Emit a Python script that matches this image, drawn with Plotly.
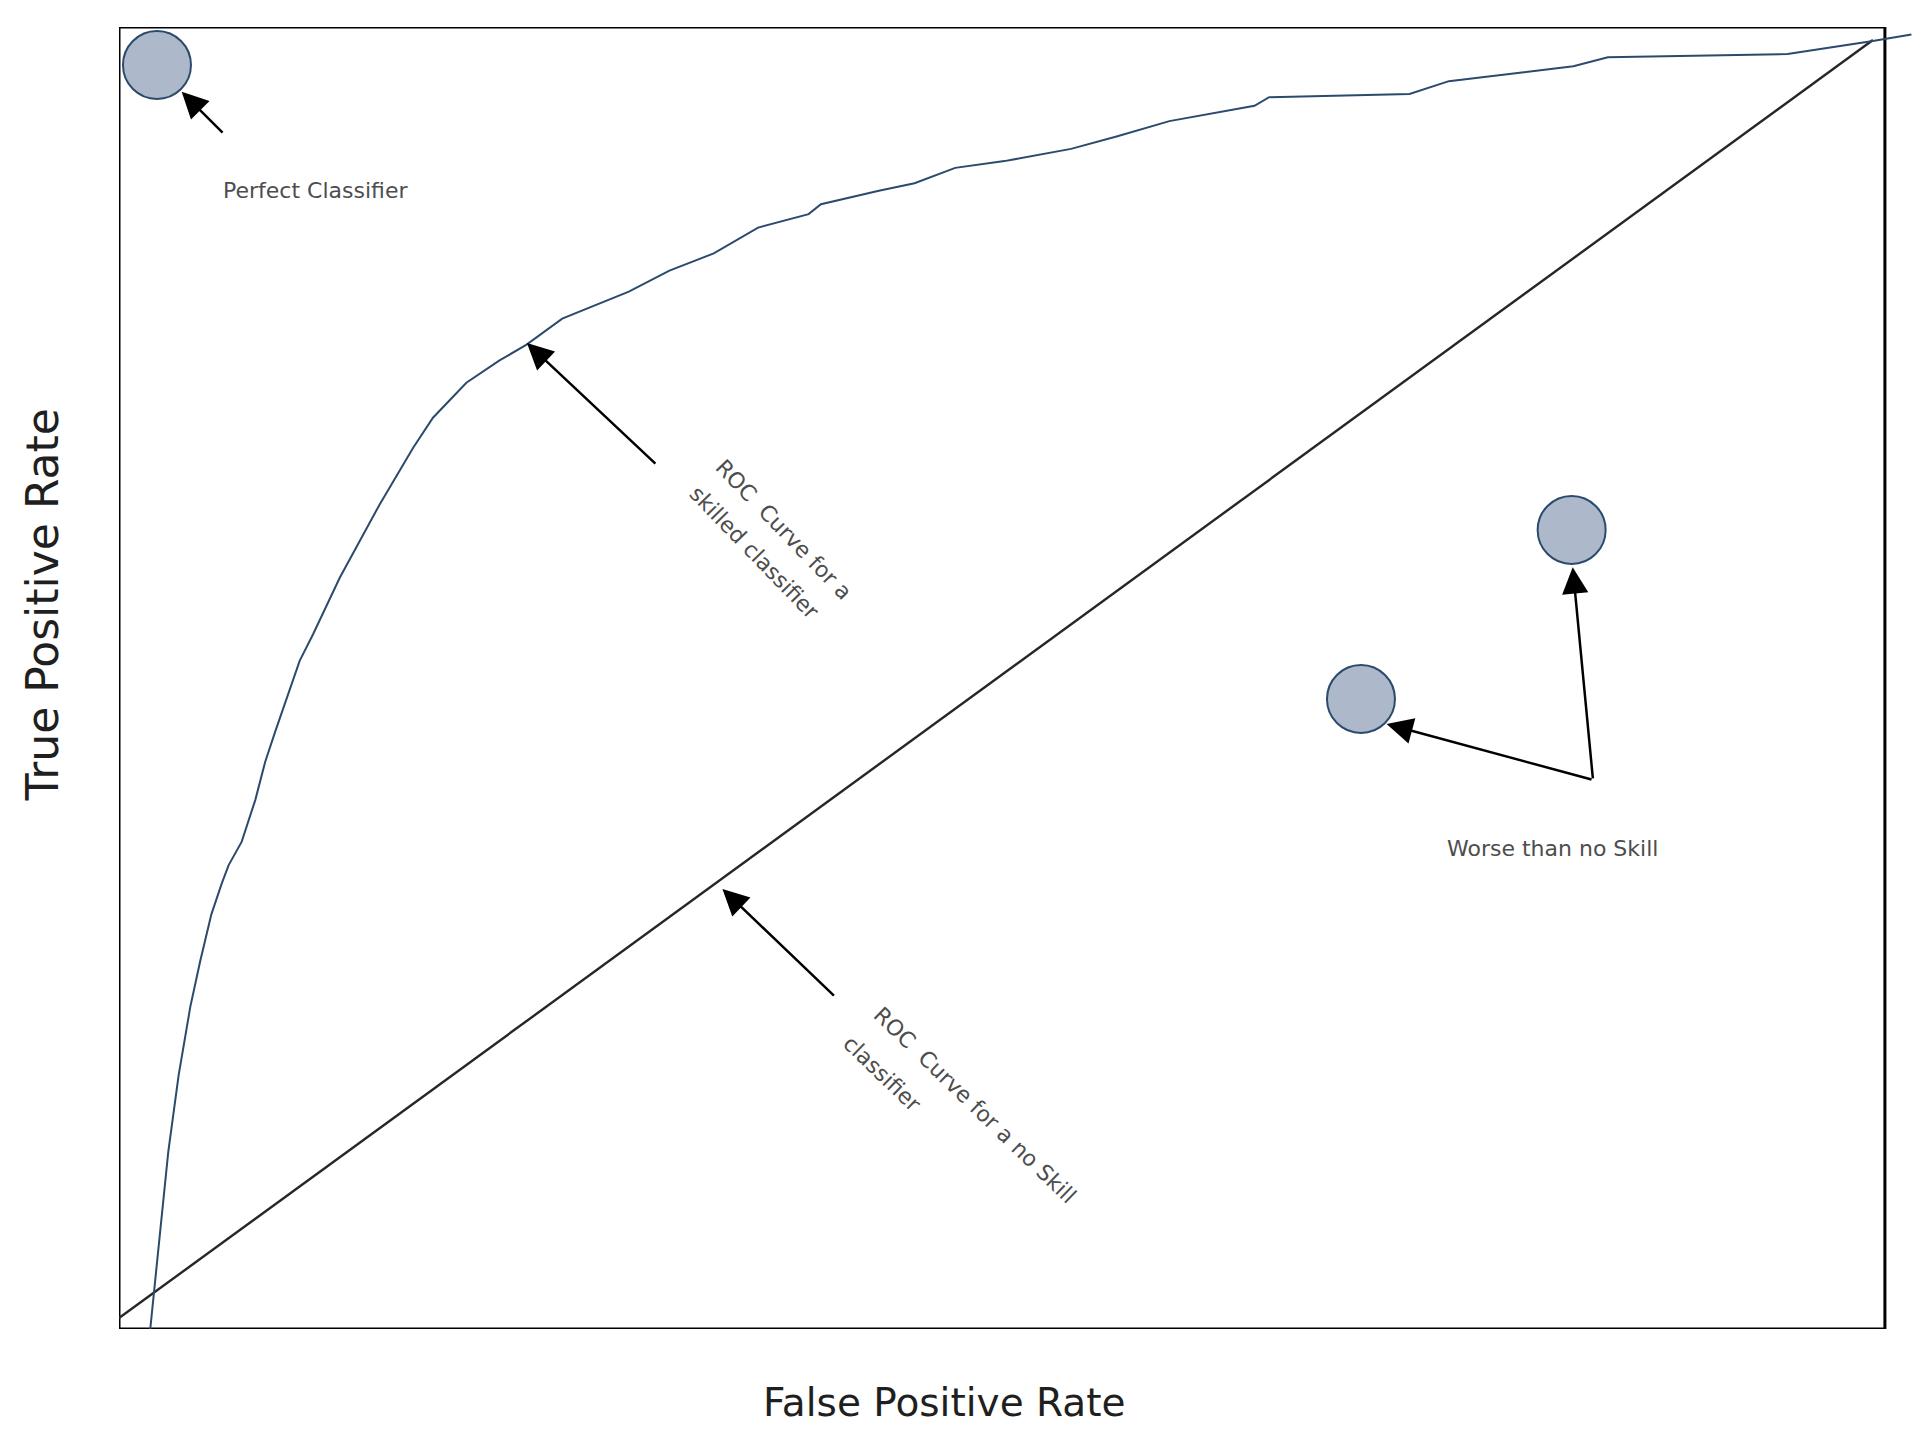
import plotly.graph_objects as go

# ROC curve of a skilled classifier
# (x and y as fractions of the framed box)
roc_fpr = [0.0177, 0.0195, 0.0234, 0.0279, 0.0338, 0.0404, 0.0460, 0.0523,
           0.0582, 0.0621, 0.0695, 0.0772, 0.0828, 0.0886, 0.1023, 0.1099,
           0.1250, 0.1476, 0.1665, 0.1778, 0.1967, 0.2155, 0.2308, 0.2510,
           0.2887, 0.3117, 0.3368, 0.3619, 0.3905, 0.3975, 0.4303, 0.4505,
           0.4735, 0.5014, 0.5391, 0.5649, 0.5948, 0.6123, 0.6430, 0.6513,
           0.7308, 0.7531, 0.8236, 0.8431, 0.9449, 0.9923, 1.0150]
roc_tpr = [0.0000, 0.0246, 0.0775, 0.1361, 0.1952, 0.2476, 0.2826, 0.3185,
           0.3422, 0.3563, 0.3743, 0.4064, 0.4357, 0.4594, 0.5132, 0.5336,
           0.5770, 0.6333, 0.6767, 0.6999, 0.7268, 0.7439, 0.7561, 0.7760,
           0.7968, 0.8129, 0.8261, 0.8459, 0.8563, 0.8639, 0.8743, 0.8800,
           0.8918, 0.8970, 0.9064, 0.9159, 0.9277, 0.9319, 0.9395, 0.9461,
           0.9485, 0.9584, 0.9698, 0.9768, 0.9792, 0.9891, 0.9943]

# no skill diagonal
diag_fpr = [0.0, 0.9932]
diag_tpr = [0.0084, 0.990]

# single classifiers shown as dots
point_fpr = [0.0215, 0.8226, 0.7033]
point_tpr = [0.9708, 0.6137, 0.4839]

# text labels
label_text = ["Perfect Classifier",
              "ROC  Curve for a", "skilled classifier",
              "ROC  Curve for a no Skill", "classifier",
              "Worse than no Skill"]
label_x = [0.111, 0.3762, 0.3597, 0.4847, 0.4319, 0.812]
label_y = [0.8748, 0.6137, 0.5964, 0.1714, 0.1959, 0.3694]
label_angle = [0, 46, 46, 44, 44, 0]

# arrows, tail -> head
arrow_tail_x = [0.0595, 0.3046, 0.4057, 0.8347, 0.8347]
arrow_tail_y = [0.9178, 0.6636, 0.2550, 0.4217, 0.4217]
arrow_head_x = [0.0355, 0.2310, 0.3417, 0.8232, 0.7178]
arrow_head_y = [0.9503, 0.7573, 0.3380, 0.5850, 0.4647]

curve_col = "#2b4a6c"
font = "DejaVu Sans"

fig = go.Figure()

fig.add_trace(go.Scatter(x=diag_fpr, y=diag_tpr, mode="lines",
                         line=dict(color="#262626", width=2.4)))
fig.add_trace(go.Scatter(x=roc_fpr, y=roc_tpr, mode="lines",
                         line=dict(color=curve_col, width=2)))
fig.add_trace(go.Scatter(x=point_fpr, y=point_tpr, mode="markers",
                         marker=dict(size=68, color="#adb9ca",
                                     line=dict(color=curve_col, width=2)),
                         cliponaxis=False))

# frame of the chart
fig.add_shape(type="rect", xref="x", yref="y", x0=0, x1=1, y0=0, y1=1,
              line=dict(color="black", width=3), layer="below")

for t, x, y, a in zip(label_text, label_x, label_y, label_angle):
    fig.add_annotation(x=x, y=y, xref="x", yref="y", text=t, textangle=a,
                       showarrow=False, xanchor="center", yanchor="middle",
                       font=dict(family=font, size=22, color="#4d4d4d"))

for x0, y0, x1, y1 in zip(arrow_tail_x, arrow_tail_y, arrow_head_x, arrow_head_y):
    fig.add_annotation(x=x1, y=y1, ax=x0, ay=y0, xref="x", yref="y",
                       axref="x", ayref="y", text="", showarrow=True,
                       arrowhead=2, arrowsize=2.1, arrowwidth=2.5,
                       arrowcolor="black", standoff=0)

# axis titles
fig.add_annotation(x=0.4568, y=-0.0561, xref="paper", yref="paper",
                   text="False Positive Rate", showarrow=False,
                   xanchor="center", yanchor="middle",
                   font=dict(family=font, size=39, color="#1f1f1f"))
fig.add_annotation(x=-0.0426, y=0.556, xref="paper", yref="paper",
                   text="True Positive Rate", textangle=-90, showarrow=False,
                   xanchor="center", yanchor="middle",
                   font=dict(family=font, size=44, color="#1f1f1f"))

# the page body adds 8px, so margins are trimmed by that much
fig.update_layout(
    width=1930, height=1446,
    margin=dict(l=111, r=13, t=19, b=125),
    paper_bgcolor="white", plot_bgcolor="white",
    showlegend=False,
    xaxis=dict(range=[0, 1.0227], visible=False),
    yaxis=dict(range=[0, 1], visible=False),
)

fig.write_html("out.html")
